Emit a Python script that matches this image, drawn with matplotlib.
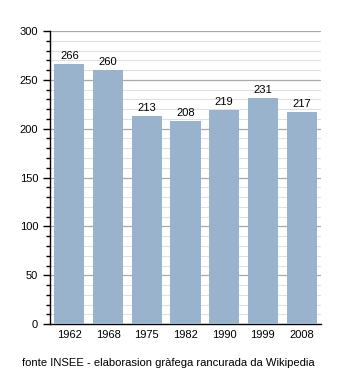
import matplotlib
matplotlib.use('Agg')
import matplotlib.pyplot as plt
from matplotlib.ticker import MultipleLocator

years = ['1962', '1968', '1975', '1982', '1990', '1999', '2008']
population = [266, 260, 213, 208, 219, 231, 217]

plt.rcParams['font.family'] = ['Liberation Sans', 'DejaVu Sans']

fig = plt.figure(figsize=(3.5, 3.73), dpi=100)
ax = fig.add_axes([0.143, 0.131, 0.774, 0.786])

x = range(len(years))
ax.bar(x, population, width=0.78, color='#99b3cc', zorder=3)
for i, v in zip(x, population):
    ax.text(i, v + 3, str(v), ha='center', va='bottom', fontsize=8, zorder=4)

ax.set_xlim(-0.5, len(years) - 0.5)
ax.set_ylim(0, 300)
ax.yaxis.set_major_locator(MultipleLocator(50))
ax.yaxis.set_minor_locator(MultipleLocator(10))
ax.grid(axis='y', which='major', color='#a8a8a8', linewidth=0.9, zorder=0)
ax.grid(axis='y', which='minor', color='#e0e0e0', linewidth=0.8, zorder=0)
ax.set_xticks(list(x))
ax.set_xticklabels(years)
ax.tick_params(axis='x', length=0, labelsize=8, pad=4)
ax.tick_params(axis='y', which='major', length=5, width=1, labelsize=8, direction='out')
ax.tick_params(axis='y', which='minor', length=3, width=1, direction='out')

for side in ['top', 'right']:
    ax.spines[side].set_visible(False)
ax.spines['left'].set_linewidth(1)
ax.spines['bottom'].set_linewidth(1)

fig.text(0.063, 0.02, 'fonte INSEE - elaborasion gràfega rancurada da Wikipedia', fontsize=8.1)

fig.savefig('out.png', dpi=100)
